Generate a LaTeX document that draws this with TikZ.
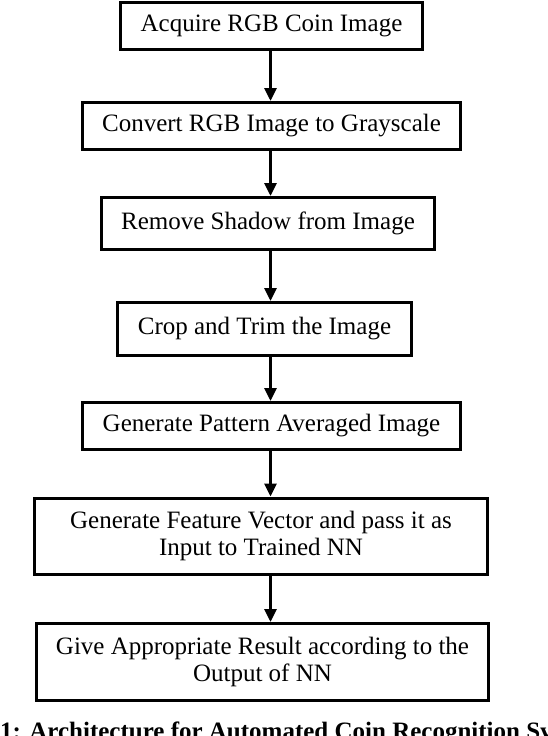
\documentclass[tikz,border=0pt]{standalone}
\usepackage{fontspec}
\setmainfont{Liberation Serif}
\usetikzlibrary{arrows.meta}

\begin{document}
\begin{tikzpicture}[
      x=1pt, y=-1pt,
      stepbox/.style={draw=black, line width=3pt, fill=white,
                      font=\fontsize{25}{27.5}\selectfont, align=center,
                      inner sep=0pt},
      arrow/.style={-{Triangle[length=13pt,width=12pt]}, line width=3pt}]

    \useasboundingbox (0,0) rectangle (548,736);
    \clip (0,0) rectangle (548,736);

    \coordinate (spine) at (270.5,0);

    \node[stepbox, minimum width=302pt, minimum height=47pt] (acquire)  at (271.5,26)  {Acquire RGB Coin Image};
    \node[stepbox, minimum width=378pt, minimum height=47pt] (gray)     at (271.5,126) {Convert RGB Image to Grayscale};
    \node[stepbox, minimum width=333pt, minimum height=52pt] (shadow)   at (268,223.5) {Remove Shadow from Image};
    \node[stepbox, minimum width=294pt, minimum height=53pt] (crop)     at (264.5,329) {Crop and Trim the Image};
    \node[stepbox, minimum width=378pt, minimum height=47pt] (pattern)  at (271.5,426) {Generate Pattern Averaged Image};
    \node[stepbox, minimum width=453pt, minimum height=76pt] (feature)  at (261,536)   {Generate Feature Vector and pass it as\\Input to Trained NN};
    \node[stepbox, minimum width=452pt, minimum height=77pt] (result)   at (262.5,662) {Give Appropriate Result according to the\\Output of NN};

    \draw[arrow] (acquire.south -| spine) -- (gray.north -| spine);
    \draw[arrow] (gray.south -| spine)    -- (shadow.north -| spine);
    \draw[arrow] (shadow.south -| spine)  -- (crop.north -| spine);
    \draw[arrow] (crop.south -| spine)    -- (pattern.north -| spine);
    \draw[arrow] (pattern.south -| spine) -- (feature.north -| spine);
    \draw[arrow] (feature.south -| spine) -- (result.north -| spine);

    % caption runs past both edges of the page
    \node[anchor=base west, inner sep=0pt, font=\fontsize{25}{28}\selectfont\bfseries] (caption)
      at (0,739) {\llap{Figure }1: Architecture for Automated Coin Recognition System};
  \end{tikzpicture}
\end{document}
